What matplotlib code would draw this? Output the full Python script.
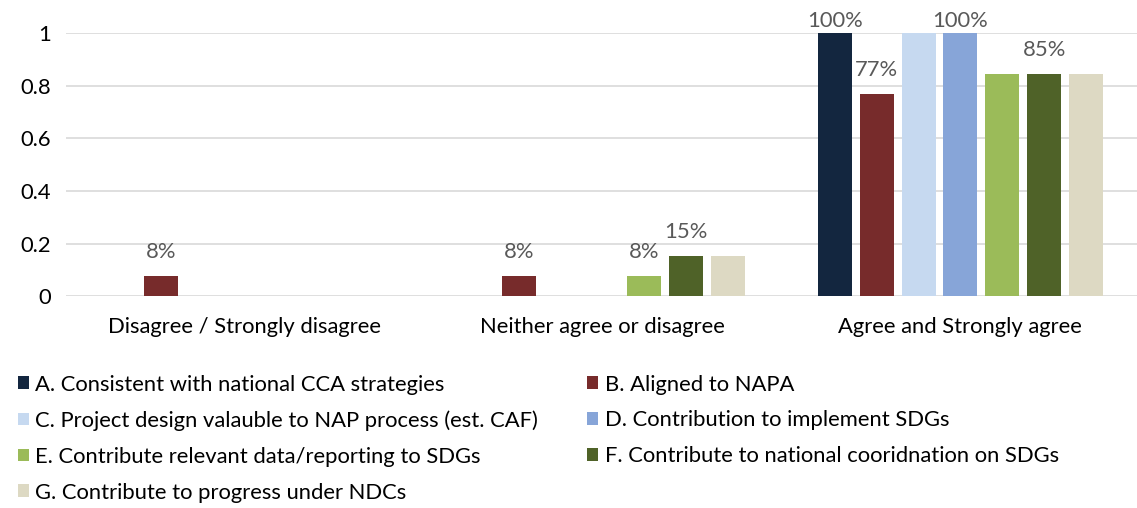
import numpy as np
import matplotlib.pyplot as plt
from matplotlib.patches import Patch

plt.rcParams['font.family'] = ['Lato', 'DejaVu Sans']

categories = ['Disagree / Strongly disagree', 'Neither agree or disagree', 'Agree and Strongly agree']
series_names = [
    'A. Consistent with national CCA strategies',
    'B. Aligned to NAPA',
    'C. Project design valauble to NAP process (est. CAF)',
    'D. Contribution to implement SDGs',
    'E. Contribute relevant data/reporting to SDGs',
    'F. Contribute to national cooridnation on SDGs',
    'G. Contribute to progress under NDCs',
]
series_a = [0.0, 0.0, 1.0]
series_b = [0.077, 0.077, 0.769]
series_c = [0.0, 0.0, 1.0]
series_d = [0.0, 0.0, 1.0]
series_e = [0.0, 0.077, 0.846]
series_f = [0.0, 0.154, 0.846]
series_g = [0.0, 0.154, 0.846]
# which bars carry a percentage label
labelled_a = [False, False, True]
labelled_b = [True, True, True]
labelled_c = [False, False, False]
labelled_d = [False, False, True]
labelled_e = [False, True, False]
labelled_f = [False, True, True]
labelled_g = [False, False, False]

colors = ['#13263f', '#772b2b', '#c6d9f0', '#87a5d8', '#9bbb59', '#4f6228', '#ddd9c3']
all_series = [series_a, series_b, series_c, series_d, series_e, series_f, series_g]
all_labels = [labelled_a, labelled_b, labelled_c, labelled_d, labelled_e, labelled_f, labelled_g]

fs = 15.8

fig = plt.figure(figsize=(11.37, 5.08), dpi=100)
ax = fig.add_axes([0.058, 0.417, 0.944, 0.518])

x = np.arange(len(categories))
pitch = 0.117
width = 0.095
handles = []
for i, (vals, labs, col, name) in enumerate(zip(all_series, all_labels, colors, series_names)):
    pos = x + (i - 3) * pitch
    ax.bar(pos, vals, width=width, color=col, zorder=3)
    for px, v, show in zip(pos, vals, labs):
        if not show:
            continue
        off = 8.5 if v >= 0.99 else 17
        ax.annotate(f'{v:.0%}', (px, v), xytext=(0, off), textcoords='offset points',
                    ha='center', va='center', fontsize=fs, color='#595959',
                    annotation_clip=False)
    handles.append(Patch(facecolor=col, label=name))

ax.set_xlim(-0.5, 2.5)
ax.set_ylim(0, 1)
ax.set_yticks([0, 0.2, 0.4, 0.6, 0.8, 1])
ax.set_yticklabels(['0', '0.2', '0.4', '0.6', '0.8', '1'])
ax.set_xticks(x)
ax.set_xticklabels(categories)
ax.tick_params(axis='both', length=0, labelsize=fs, colors='black')
ax.tick_params(axis='x', pad=15)
ax.tick_params(axis='y', pad=11)
ax.grid(axis='y', color='#d9d9d9', linewidth=1.2, zorder=0)
for s in ax.spines.values():
    s.set_visible(False)

# legend filled column-wise, so reorder to read A B / C D / E F / G
order = [0, 2, 4, 6, 1, 3, 5]
fig.legend([handles[k] for k in order], [series_names[k] for k in order],
           loc='upper left', bbox_to_anchor=(0.008, 0.28), ncol=2, frameon=False,
           fontsize=fs, handlelength=0.5, handleheight=0.5, handletextpad=0.3,
           columnspacing=2.22, labelspacing=0.72, borderaxespad=0)

fig.savefig('out.png', dpi=100)
